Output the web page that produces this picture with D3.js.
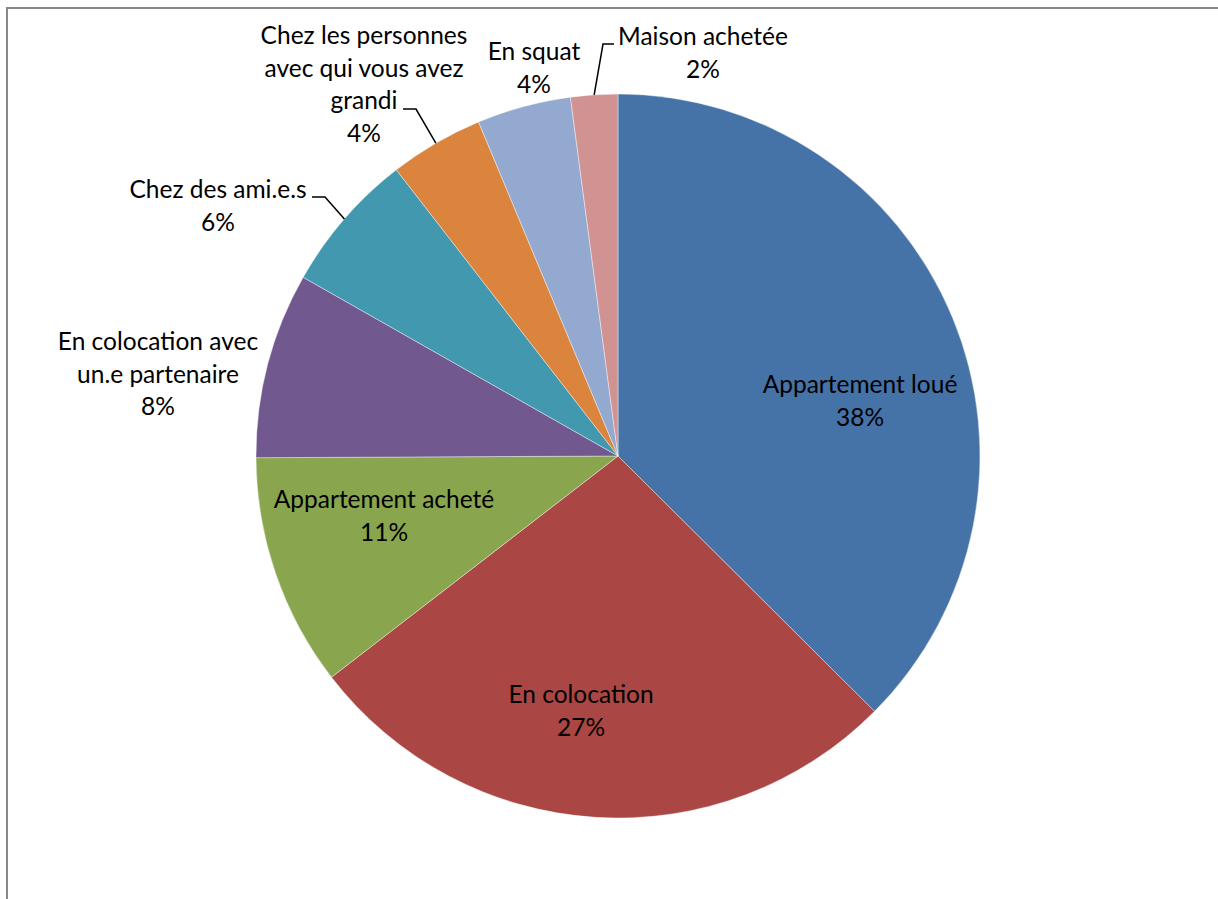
<!DOCTYPE html>
<html>
<head>
<meta charset="utf-8">
<script src="https://cdn.jsdelivr.net/npm/d3@7"></script>
<style>
  body { margin: 0; background: #fff; }
  svg { display: block; }
  text { font-family: Lato, "Open Sans", sans-serif; fill: #000; }
</style>
</head>
<body>
<div id="container"></div>
<script>
const categories = ["Appartement loué", "En colocation", "Appartement acheté",
  "En colocation avec\nun.e partenaire", "Chez des ami.e.s",
  "Chez les personnes\navec qui vous avez\ngrandi", "En squat", "Maison achetée"]
const shares = [37.5, 27.1, 10.4, 8.3, 6.3, 4.2, 4.2, 2.1]
const pctLabels = ["38%", "27%", "11%", "8%", "6%", "4%", "4%", "2%"]
const colors = ["#4572A7", "#AA4643", "#89A54E", "#71588F", "#4198AF", "#DB843D", "#93A9CF", "#D19392"]

// label anchors, relative to pie centre (first baseline)
const labelAt = [[242, -63], [-37, 247], [-234, 52], [-460, -106], [-400, -258], [-254, -412], [-84, -396], [85, -411]]
// leader lines: elbow + end relative to centre, null = no leader
const leaders = [null, null, null, null, [[-293, -259], [-306, -259]], [[-202, -347], [-215, -347]], null, [[-15, -412], [-4, -412]]]

let width = 1218, height = 899
let cx = 618, cy = 456, radius = 362
const lineH = 32.5

const svg = d3.select("#container").append("svg")
  .attr("width", width)
  .attr("height", height)

// chart frame (runs off the right and bottom edges)
svg.append("rect")
  .attr("x", 7).attr("y", 8)
  .attr("width", width + 20).attr("height", height + 20)
  .attr("fill", "none")
  .attr("stroke", "#888")
  .attr("stroke-width", 2)

const pie = d3.pie().sort(null).value(d => d)
const arcs = pie(shares)
const arc = d3.arc().innerRadius(0).outerRadius(radius)

const g = svg.append("g").attr("transform", `translate(${cx},${cy})`)

g.selectAll("path")
  .data(arcs)
  .join("path")
  .attr("d", arc)
  .attr("fill", (d, i) => colors[i])
  .attr("stroke", "#fff")
  .attr("stroke-opacity", 0.5)
  .attr("stroke-width", 0.8)

// leader lines from the slice's outer edge at its middle angle
g.selectAll("polyline")
  .data(arcs.filter((d, i) => leaders[i]))
  .join("polyline")
  .attr("points", d => {
    const a = (d.startAngle + d.endAngle) / 2
    const p = [Math.sin(a) * radius, -Math.cos(a) * radius]
    const L = leaders[d.index]
    return [p, L[0], L[1]].map(q => q.join(",")).join(" ")
  })
  .attr("fill", "none")
  .attr("stroke", "#000")
  .attr("stroke-width", 1.5)

const labels = g.selectAll("text.lbl")
  .data(arcs)
  .join("text")
  .attr("class", "lbl")
  .attr("text-anchor", "middle")
  .style("font-size", "24.5px")
  .attr("transform", (d, i) => `translate(${labelAt[i][0]},${labelAt[i][1]})`)

labels.each(function (d, i) {
  const lines = categories[i].split("\n").concat(pctLabels[i])
  d3.select(this).selectAll("tspan")
    .data(lines)
    .join("tspan")
    .attr("x", 0)
    .attr("y", (t, j) => j * lineH)
    .text(t => t)
})
</script>
</body>
</html>
